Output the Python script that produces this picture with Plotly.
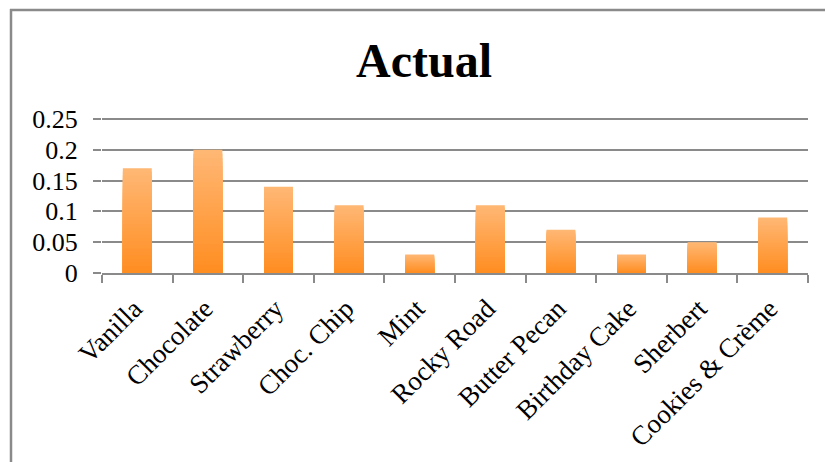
import plotly.graph_objects as go

flavors = ["Vanilla", "Chocolate", "Strawberry", "Choc. Chip", "Mint",
           "Rocky Road", "Butter Pecan", "Birthday Cake", "Sherbert",
           "Cookies & Crème"]
actual = [0.17, 0.20, 0.14, 0.11, 0.03, 0.11, 0.07, 0.03, 0.05, 0.09]
y_ticks = [0, 0.05, 0.1, 0.15, 0.2, 0.25]
y_tick_text = ["0", "0.05", "0.1", "0.15", "0.2", "0.25"]
y_max = 0.253

W, H = 825, 462
L, R, T, B = 102, 17, 117, 189
FONT = "Liberation Serif"

# vertical gradient: light at the top of each bar, deep orange at the base
top_rgb = (255, 183, 116)
base_rgb = (255, 142, 34)
layers = 30

fig = go.Figure()
for k in range(layers):
    f = k / (layers - 1)
    rgb = tuple(round(a + (b - a) * f) for a, b in zip(top_rgb, base_rgb))
    scale = 1 - k / layers
    fig.add_trace(go.Bar(
        x=flavors,
        y=[v * scale for v in actual],
        width=0.41,
        marker=dict(color="rgb(%d,%d,%d)" % rgb, line=dict(width=0)),
        hoverinfo="skip" if k else None,
        showlegend=False,
    ))

plot_w = W - L - R
plot_h = H - T - B


def px_x(p):
    return (p - L) / plot_w


def px_y(p):
    return (H - B - p) / plot_h


border = "#8a8a8a"
fig.add_shape(type="line", xref="paper", yref="paper",
              x0=px_x(10), x1=px_x(W + 5), y0=px_y(10), y1=px_y(10),
              line=dict(color=border, width=2.5))
fig.add_shape(type="line", xref="paper", yref="paper",
              x0=px_x(11), x1=px_x(11), y0=px_y(9), y1=px_y(H + 5),
              line=dict(color=border, width=2.5))

fig.update_layout(
    width=W, height=H,
    margin=dict(l=L, r=R, t=T, b=B, autoexpand=False),
    paper_bgcolor="white", plot_bgcolor="white",
    barmode="overlay",
    title=dict(text="<b>Actual</b>", xref="container", x=424 / W,
               xanchor="center", y=1 - 60 / H, yanchor="middle",
               font=dict(family=FONT, size=48, color="black")),
    xaxis=dict(
        type="category", tickson="boundaries", ticks="outside", ticklen=8,
        tickwidth=2, tickcolor=border, showline=True, linecolor=border,
        linewidth=2, showgrid=False, tickangle=-45, automargin=False,
        ticklabelstandoff=7, ticklabelshift=-3,
        tickfont=dict(family=FONT, size=27, color="black"),
    ),
    yaxis=dict(
        range=[0, y_max], tickvals=y_ticks, ticktext=y_tick_text,
        ticks="outside", ticklen=8, tickwidth=2, tickcolor=border,
        showgrid=True, gridcolor=border, gridwidth=2, showline=False,
        zeroline=False, ticklabelstandoff=10, automargin=False,
        tickfont=dict(family=FONT, size=26, color="black"),
    ),
)

fig.write_html("out.html")
